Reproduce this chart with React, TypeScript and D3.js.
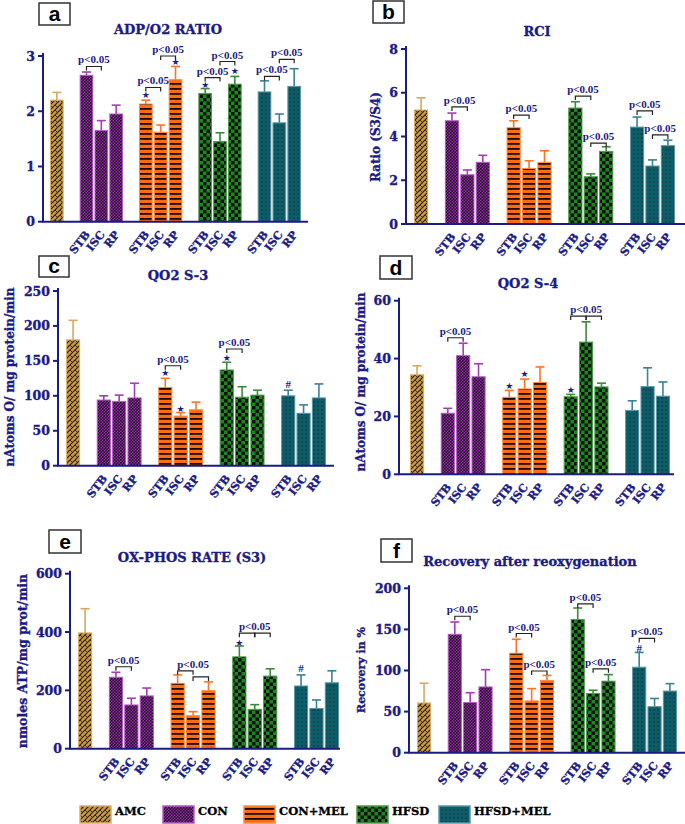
import React from "react";
import * as d3 from "d3";

// ---------- data ----------
const groups = ["AMC", "CON", "CON+MEL", "HFSD", "HFSD+MEL"];
const phases = ["STB", "ISC", "RP"];

// order: AMC, CON(STB,ISC,RP), CON+MEL(...), HFSD(...), HFSD+MEL(...)
const adpMean = [2.2, 2.65, 1.65, 1.95, 2.13, 1.62, 2.57, 2.32, 1.45, 2.49, 2.35, 1.79, 2.45];
const adpErr = [0.14, 0.06, 0.18, 0.16, 0.07, 0.13, 0.24, 0.09, 0.16, 0.14, 0.2, 0.16, 0.32];

const rciMean = [5.21, 4.72, 2.25, 2.82, 4.4, 2.54, 2.82, 5.3, 2.16, 3.32, 4.43, 2.65, 3.58];
const rciErr = [0.56, 0.35, 0.22, 0.32, 0.32, 0.35, 0.53, 0.29, 0.13, 0.21, 0.46, 0.28, 0.25];

const s3Mean = [180, 94, 92, 97, 112, 71, 80, 137, 98, 101, 100, 75, 97];
const s3Err = [28, 6, 9, 21, 13, 5, 11, 11, 15, 7, 8, 12, 20];

const s4Mean = [34.4, 21.1, 41.0, 33.7, 26.6, 29.5, 31.7, 26.8, 45.7, 30.2, 22.1, 30.3, 27.0];
const s4Err = [3.1, 1.7, 4.3, 4.5, 2.4, 3.4, 5.4, 0.8, 7.0, 1.3, 3.3, 6.5, 4.9];

const oxMean = [397, 245, 150, 181, 224, 113, 199, 315, 135, 249, 215, 138, 226];
const oxErr = [83, 17, 23, 27, 29, 14, 30, 37, 16, 25, 38, 29, 41];

const recMean = [60.5, 144, 61, 80, 121, 63, 88, 162, 72, 87, 104, 56, 75];
const recErr = [24, 15, 12, 21, 17, 15, 6, 14, 4, 8, 18, 10, 9];

const adpTicks = [0, 1, 2, 3];
const rciTicks = [0, 2, 4, 6, 8];
const s3Ticks = [0, 50, 100, 150, 200, 250];
const s4Ticks = [0, 20, 40, 60];
const oxTicks = [0, 200, 400, 600];
const recTicks = [0, 50, 100, 150, 200];

type Bracket = { g: string; a: string; b: string; y: number; label?: boolean };
type Lbl = { g: string; at: string; y: number };
type Mark = { g: string; p: string; s: string; y: number };

const adpBrackets: Bracket[] = [
  { g: "CON", a: "STB", b: "ISC", y: 2.81 },
  { g: "CON+MEL", a: "STB", b: "ISC", y: 2.43 },
  { g: "CON+MEL", a: "ISC", b: "RP", y: 3.0 },
  { g: "HFSD", a: "STB", b: "ISC", y: 2.61 },
  { g: "HFSD", a: "ISC", b: "RP", y: 2.9 },
  { g: "HFSD+MEL", a: "STB", b: "ISC", y: 2.63 },
  { g: "HFSD+MEL", a: "ISC", b: "RP", y: 2.94 },
];
const adpMarks: Mark[] = [
  { g: "CON+MEL", p: "STB", s: "★", y: 2.3 },
  { g: "CON+MEL", p: "RP", s: "★", y: 2.89 },
  { g: "HFSD", p: "STB", s: "★", y: 2.47 },
  { g: "HFSD", p: "RP", s: "★", y: 2.72 },
];

const rciBrackets: Bracket[] = [
  { g: "CON", a: "STB", b: "ISC", y: 5.35 },
  { g: "CON+MEL", a: "STB", b: "ISC", y: 4.98 },
  { g: "HFSD", a: "STB", b: "ISC", y: 5.85 },
  { g: "HFSD", a: "ISC", b: "RP", y: 3.7 },
  { g: "HFSD+MEL", a: "STB", b: "ISC", y: 5.17 },
  { g: "HFSD+MEL", a: "ISC", b: "RP", y: 4.07 },
];

const s3Brackets: Bracket[] = [
  { g: "CON+MEL", a: "STB", b: "ISC", y: 143 },
  { g: "HFSD", a: "STB", b: "ISC", y: 167 },
];
const s3Marks: Mark[] = [
  { g: "CON+MEL", p: "STB", s: "★", y: 133 },
  { g: "CON+MEL", p: "ISC", s: "★", y: 81 },
  { g: "HFSD", p: "STB", s: "★", y: 154 },
  { g: "HFSD+MEL", p: "STB", s: "#", y: 117 },
];

const s4Brackets: Bracket[] = [
  { g: "CON", a: "STB", b: "ISC", y: 47.2 },
  { g: "HFSD", a: "STB", b: "ISC", y: 54.7, label: false },
  { g: "HFSD", a: "ISC", b: "RP", y: 54.7, label: false },
];
const s4Labels: Lbl[] = [{ g: "HFSD", at: "ISC", y: 54.7 }];
const s4Marks: Mark[] = [
  { g: "CON+MEL", p: "STB", s: "★", y: 30.5 },
  { g: "CON+MEL", p: "ISC", s: "★", y: 34.7 },
  { g: "HFSD", p: "STB", s: "★", y: 29.1 },
];

const oxBrackets: Bracket[] = [
  { g: "CON", a: "STB", b: "ISC", y: 281 },
  { g: "CON+MEL", a: "STB", b: "ISC", y: 267, label: false },
  { g: "CON+MEL", a: "ISC", b: "RP", y: 246, label: false },
  { g: "HFSD", a: "STB", b: "ISC", y: 396, label: false },
  { g: "HFSD", a: "ISC", b: "RP", y: 396, label: false },
];
const oxLabels: Lbl[] = [
  { g: "CON+MEL", at: "ISC", y: 267 },
  { g: "HFSD", at: "ISC", y: 396 },
];
const oxMarks: Mark[] = [
  { g: "HFSD", p: "STB", s: "★", y: 363 },
  { g: "HFSD+MEL", p: "STB", s: "#", y: 277 },
];

const recBrackets: Bracket[] = [
  { g: "CON", a: "STB", b: "ISC", y: 166 },
  { g: "CON+MEL", a: "STB", b: "ISC", y: 145 },
  { g: "CON+MEL", a: "ISC", b: "RP", y: 99.4 },
  { g: "HFSD", a: "STB", b: "ISC", y: 181 },
  { g: "HFSD", a: "ISC", b: "RP", y: 102 },
  { g: "HFSD+MEL", a: "STB", b: "ISC", y: 139 },
];
const recMarks: Mark[] = [{ g: "HFSD+MEL", p: "STB", s: "#", y: 127 }];

// ---------- styles ----------
const NAVY = "#1b1b86";
const borderColor: Record<string, string> = {
  AMC: "#dcae66",
  CON: "#b35cc4",
  "CON+MEL": "#ff8a3c",
  HFSD: "#4f9a4f",
  "HFSD+MEL": "#5a97a6",
};
const errColor: Record<string, string> = {
  AMC: "#d9a85c",
  CON: "#a43cb6",
  "CON+MEL": "#ff7424",
  HFSD: "#3a8a3a",
  "HFSD+MEL": "#3a8394",
};
const patId: Record<string, string> = {
  AMC: "pAMC",
  CON: "pCON",
  "CON+MEL": "pCONMEL",
  HFSD: "pHFSD",
  "HFSD+MEL": "pHFSDMEL",
};

const slots: string[] = [];
groups.forEach((g, i) => {
  if (g === "AMC") slots.push("AMC");
  else {
    slots.push("gap" + i);
    phases.forEach((p) => slots.push(g + "|" + p));
  }
});
const barKeys: { g: string; p: string | null }[] = [];
groups.forEach((g) => {
  if (g === "AMC") barKeys.push({ g, p: null });
  else phases.forEach((p) => barKeys.push({ g, p }));
});

type Cfg = {
  letter: string;
  box: [number, number, number, number];
  title: string;
  titleX: number;
  titleY: number;
  yLabel?: string;
  yLabelX?: number;
  yLabelY?: number;
  yLabelSize?: number;
  mean: number[];
  err: number[];
  ticks: number[];
  axisX: number;
  xEnd: number;
  barStart: number;
  barEnd: number;
  y0: number;
  yTop: number;
  brackets: Bracket[];
  labels?: Lbl[];
  marks?: Mark[];
};

const panels: Cfg[] = [
  {
    letter: "a", box: [39, 3, 31, 22], title: "ADP/O2 RATIO", titleX: 168, titleY: 34,
    mean: adpMean, err: adpErr, ticks: adpTicks,
    axisX: 43, xEnd: 308, barStart: 50, barEnd: 301, y0: 221.7, yTop: 56,
    brackets: adpBrackets, marks: adpMarks,
  },
  {
    letter: "b", box: [373, 1, 31, 22], title: "RCI", titleX: 537, titleY: 36,
    yLabel: "Ratio (S3/S4)", yLabelX: 376, yLabelY: 137, yLabelSize: 12,
    mean: rciMean, err: rciErr, ticks: rciTicks,
    axisX: 406, xEnd: 685, barStart: 414, barEnd: 675, y0: 224, yTop: 49,
    brackets: rciBrackets,
  },
  {
    letter: "c", box: [39, 256, 30, 21], title: "QO2 S-3", titleX: 178, titleY: 280,
    yLabel: "nAtoms O/ mg protein/min", yLabelX: 10, yLabelY: 377, yLabelSize: 12,
    mean: s3Mean, err: s3Err, ticks: s3Ticks,
    axisX: 58, xEnd: 334, barStart: 66, barEnd: 326, y0: 465.7, yTop: 291,
    brackets: s3Brackets, marks: s3Marks,
  },
  {
    letter: "d", box: [380, 256, 32, 23], title: "QO2 S-4", titleX: 528, titleY: 288,
    yLabel: "nAtoms O/ mg protein/min", yLabelX: 361, yLabelY: 382, yLabelSize: 12,
    mean: s4Mean, err: s4Err, ticks: s4Ticks,
    axisX: 399, xEnd: 674, barStart: 410, barEnd: 670, y0: 474.3, yTop: 300.7,
    brackets: s4Brackets, labels: s4Labels, marks: s4Marks,
  },
  {
    letter: "e", box: [49, 530, 32, 23], title: "OX-PHOS RATE (S3)", titleX: 192, titleY: 562,
    yLabel: "nmoles ATP/mg prot/min", yLabelX: 22, yLabelY: 661, yLabelSize: 12.5,
    mean: oxMean, err: oxErr, ticks: oxTicks,
    axisX: 70, xEnd: 340, barStart: 78, barEnd: 339, y0: 748.7, yTop: 573.7,
    brackets: oxBrackets, labels: oxLabels, marks: oxMarks,
  },
  {
    letter: "f", box: [381, 539, 31, 23], title: "Recovery after reoxygenation", titleX: 530, titleY: 566,
    yLabel: "Recovery in %", yLabelX: 361, yLabelY: 670, yLabelSize: 11,
    mean: recMean, err: recErr, ticks: recTicks,
    axisX: 409, xEnd: 685, barStart: 417, barEnd: 677, y0: 752.7, yTop: 588.3,
    brackets: recBrackets, marks: recMarks,
  },
];

const legendX = [80, 163, 244, 357, 439];

const SERIF = "'DejaVu Serif', serif";
const PFONT = "'Liberation Serif', 'Times New Roman', serif";
const heavy = { stroke: NAVY, strokeWidth: 0.35 };

function Panel({ cfg }: { cfg: Cfg }) {
  const max = cfg.ticks[cfg.ticks.length - 1];
  const y = d3.scaleLinear().domain([0, max]).range([cfg.y0, cfg.yTop]);
  const x = d3.scaleBand<string>().domain(slots).range([cfg.barStart, cfg.barEnd]).paddingInner(0.08).paddingOuter(0);
  const bw = x.bandwidth();
  const key = (g: string, p: string | null) => (p === null ? "AMC" : g + "|" + p);
  const cx = (g: string, p: string | null) => (x(key(g, p)) as number) + bw / 2;

  return (
    <g>
      <rect x={cfg.box[0]} y={cfg.box[1]} width={cfg.box[2]} height={cfg.box[3]} fill="#fff" stroke="#333" strokeWidth={1.5} />
      <text x={cfg.box[0] + cfg.box[2] / 2} y={cfg.box[1] + cfg.box[3] - 4} textAnchor="middle"
        fontFamily="'Liberation Sans', Arial, sans-serif" fontWeight="bold" fontSize={21} fill="#000">{cfg.letter}</text>
      <text x={cfg.titleX} y={cfg.titleY} textAnchor="middle" fontFamily={SERIF} fontWeight="bold" fontSize={13} fill={NAVY} {...heavy}>{cfg.title}</text>
      {cfg.yLabel && (
        <text transform={`translate(${cfg.yLabelX},${cfg.yLabelY}) rotate(-90)`} textAnchor="middle" dominantBaseline="central"
          fontFamily={SERIF} fontWeight="bold" fontSize={cfg.yLabelSize} fill={NAVY} {...heavy}>{cfg.yLabel}</text>
      )}
      {barKeys.map((b, i) => {
        const v = cfg.mean[i];
        const e = cfg.err[i];
        const x0 = x(key(b.g, b.p)) as number;
        const c = x0 + bw / 2;
        return (
          <g key={i}>
            <line x1={c} x2={c} y1={y(v)} y2={y(v + e)} stroke={errColor[b.g]} strokeWidth={1.6} />
            <line x1={c - 4.5} x2={c + 4.5} y1={y(v + e)} y2={y(v + e)} stroke={errColor[b.g]} strokeWidth={1.6} />
            <rect x={x0 + 0.5} y={y(v)} width={bw - 1} height={cfg.y0 - y(v)} fill={`url(#${patId[b.g]})`}
              stroke={borderColor[b.g]} strokeWidth={1} />
          </g>
        );
      })}
      <line x1={cfg.axisX} x2={cfg.axisX} y1={cfg.yTop - 3} y2={cfg.y0} stroke={NAVY} strokeWidth={2} />
      <line x1={cfg.axisX - 1} x2={cfg.xEnd} y1={cfg.y0} y2={cfg.y0} stroke={NAVY} strokeWidth={2} />
      {cfg.ticks.map((t) => (
        <g key={t}>
          <line x1={cfg.axisX - 5} x2={cfg.axisX} y1={y(t)} y2={y(t)} stroke={NAVY} strokeWidth={2} />
          <text x={cfg.axisX - 8} y={y(t)} dy="0.36em" textAnchor="end" fontFamily={SERIF} fontWeight="bold" fontSize={12.5} fill={NAVY} {...heavy}>{t}</text>
        </g>
      ))}
      {barKeys.filter((b) => b.p !== null).map((b, i) => (
        <text key={i} transform={`translate(${cx(b.g, b.p) + 4},${cfg.y0 + 13}) rotate(-52)`} textAnchor="end"
          fontFamily={SERIF} fontWeight="bold" fontSize={11} fill={NAVY} {...heavy}>{b.p}</text>
      ))}
      {cfg.brackets.map((br, i) => {
        const x1 = cx(br.g, br.a);
        const x2 = cx(br.g, br.b);
        const yy = y(br.y);
        return (
          <g key={i}>
            <path d={`M${x1},${yy + 4}V${yy}H${x2}V${yy + 4}`} fill="none" stroke="#222" strokeWidth={1.2} />
            {br.label !== false && (
              <text x={(x1 + x2) / 2} y={yy - 3} textAnchor="middle" fontFamily={PFONT} fontWeight="bold" fontSize={11} fill={NAVY}>p&lt;0.05</text>
            )}
          </g>
        );
      })}
      {(cfg.labels || []).map((l, i) => (
        <text key={i} x={cx(l.g, l.at)} y={y(l.y) - 3} textAnchor="middle" fontFamily={PFONT} fontWeight="bold" fontSize={11} fill={NAVY}>p&lt;0.05</text>
      ))}
      {(cfg.marks || []).map((m, i) => (
        <text key={i} x={cx(m.g, m.p)} y={y(m.y)} dominantBaseline="central" textAnchor="middle"
          fontFamily={m.s === "#" ? PFONT : "'DejaVu Sans', sans-serif"} fontWeight="bold" fontSize={m.s === "#" ? 11 : 9} fill={NAVY}>{m.s}</text>
      ))}
    </g>
  );
}

function Patterns() {
  return (
    <defs>
      <pattern id="pAMC" patternUnits="userSpaceOnUse" width={5} height={5}>
        <rect width={5} height={5} fill="#c89a44" />
        <path d="M-1,1 L1,-1 M0,5 L5,0 M4,6 L6,4" stroke="#2a1a06" strokeWidth={1.1} />
        <path d="M0,0 L2,2" stroke="#2a1a06" strokeWidth={0.8} />
      </pattern>
      <pattern id="pCON" patternUnits="userSpaceOnUse" width={3} height={3}>
        <rect width={3} height={3} fill="#9a2eae" />
        <rect width={1.5} height={1.5} fill="#120414" />
        <rect x={1.5} y={1.5} width={1.5} height={1.5} fill="#120414" />
      </pattern>
      <pattern id="pCONMEL" patternUnits="userSpaceOnUse" width={5} height={5}>
        <rect width={5} height={5} fill="#ff6a12" />
        <rect y={3} width={5} height={1.8} fill="#1a0800" />
      </pattern>
      <pattern id="pHFSD" patternUnits="userSpaceOnUse" width={7} height={7}>
        <rect width={7} height={7} fill="#1f861f" />
        <rect width={3.5} height={3.5} fill="#061006" />
        <rect x={3.5} y={3.5} width={3.5} height={3.5} fill="#061006" />
      </pattern>
      <pattern id="pHFSDMEL" patternUnits="userSpaceOnUse" width={4} height={4}>
        <rect width={4} height={4} fill="#0e5c68" />
        <rect x={1.5} y={1.5} width={1} height={1} fill="#041416" />
      </pattern>
    </defs>
  );
}

export default function App() {
  return (
    <svg width={685} height={824} style={{ position: "absolute", left: 0, top: 0, background: "#fff" }}>
      <Patterns />
      <rect width={685} height={824} fill="#fff" />
      {panels.map((p, i) => (
        <Panel key={i} cfg={p} />
      ))}
      {groups.map((g, i) => (
        <g key={g}>
          <rect x={legendX[i]} y={806} width={31} height={17} fill={`url(#${patId[g]})`} stroke={borderColor[g]} strokeWidth={1.5} />
          <text x={legendX[i] + 35} y={815} fontFamily={SERIF} fontWeight="bold" fontSize={11.5} fill="#000" stroke="#000" strokeWidth={0.3}>{g}</text>
        </g>
      ))}
    </svg>
  );
}
